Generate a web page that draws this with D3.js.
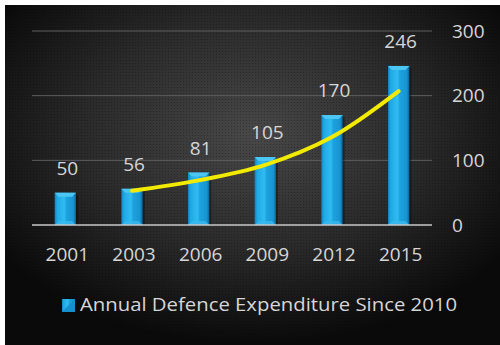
<!DOCTYPE html>
<html><head><meta charset="utf-8">
<script src="https://cdn.jsdelivr.net/npm/d3@7"></script>
<style>html,body{margin:0;padding:0;background:#fff;overflow:hidden}</style>
</head><body>
<script>
const years = ["2001","2003","2006","2009","2012","2015"];
const expenditure = [50, 56, 81, 105, 170, 246];
const trendYears = ["2003","2006","2009","2012","2015"];
const trendValues = [53, 69, 93, 136, 207];
const yTicks = [0, 100, 200, 300];
const legendLabel = "Annual Defence Expenditure Since 2010";

const W = 500, H = 345;
const svg = d3.select("body").append("svg").attr("width", W).attr("height", H);
const defs = svg.append("defs");

const bg = defs.append("radialGradient").attr("id","bg").attr("cx","0.5").attr("cy","0.38").attr("r","0.62");
bg.append("stop").attr("offset","0").attr("stop-color","#484848");
bg.append("stop").attr("offset","0.55").attr("stop-color","#2a2a2a");
bg.append("stop").attr("offset","1").attr("stop-color","#0a0a0a");

const pat = defs.append("pattern").attr("id","dots").attr("width",3).attr("height",3).attr("patternUnits","userSpaceOnUse");
pat.append("rect").attr("width",1).attr("height",1).attr("fill","rgba(0,0,0,0.25)");

const barG = defs.append("linearGradient").attr("id","barG").attr("x1","0").attr("x2","1").attr("y1","0").attr("y2","0");
[["0","#0f82be"],["0.12","#1fa9e4"],["0.45","#30bcf2"],["0.55","#1ca3de"],["0.88","#1794d2"],["1","#0b6194"]]
  .forEach(([o,c]) => barG.append("stop").attr("offset",o).attr("stop-color",c));

svg.append("rect").attr("x",5).attr("y",5).attr("width",W-5).attr("height",H-5).attr("fill","url(#bg)");
svg.append("rect").attr("x",5).attr("y",5).attr("width",W-5).attr("height",H-5).attr("fill","url(#dots)");

const x = d3.scaleBand().domain(years).range([32, 432]).paddingInner(0.68).paddingOuter(0.34);
const y = d3.scaleLinear().domain([0, 300]).range([225, 31]);

const font = "'Open Sans', 'Noto Sans', sans-serif";
const txt = "#d6d6d6";
const fs = 19;

// gridlines
svg.append("g").selectAll("line").data(yTicks.filter(d => d > 0)).join("line")
  .attr("x1", 32).attr("x2", 432).attr("y1", d => y(d)).attr("y2", d => y(d))
  .attr("stroke", "#5e5e5e").attr("stroke-width", 1);

// right axis labels
const ax = svg.append("g").attr("transform", "translate(452,0)")
  .call(d3.axisRight(y).tickValues(yTicks).tickSize(0).tickPadding(0));
ax.select(".domain").remove();
ax.selectAll("text").attr("font-family", font).attr("font-size", fs).attr("fill", txt).attr("x", 0);

// bars
const bars = svg.append("g");
years.forEach((yr, i) => {
  const v = expenditure[i];
  const x0 = x(yr), bw = x.bandwidth(), yt = y(v), yb = y(0);
  bars.append("rect").attr("x", x0 + 2).attr("y", yt + 2).attr("width", bw).attr("height", yb - yt - 2)
    .attr("fill", "rgba(0,0,0,0.35)");
  bars.append("rect").attr("x", x0).attr("y", yt).attr("width", bw).attr("height", yb - yt).attr("fill", "url(#barG)");
  const b = 4;
  bars.append("path").attr("d", `M${x0},${yt}L${x0+bw},${yt}L${x0+bw-b},${yt+b}L${x0+b},${yt+b}Z`).attr("fill", "#4cc6f3");
  bars.append("path").attr("d", `M${x0},${yb}L${x0+bw},${yb}L${x0+bw-b},${yb-b}L${x0+b},${yb-b}Z`).attr("fill", "#3ab9ee").attr("opacity", 0.8);
});

// baseline
svg.append("line").attr("x1", 32).attr("x2", 432).attr("y1", y(0)).attr("y2", y(0))
  .attr("stroke", "#c8c8c8").attr("stroke-width", 1.3);

// value labels
svg.append("g").selectAll("text").data(years).join("text")
  .attr("x", d => x(d) + x.bandwidth() / 2 + 2)
  .attr("y", (d, i) => y(expenditure[i]) - 18)
  .attr("text-anchor", "middle").attr("font-family", font).attr("font-size", fs).attr("fill", txt)
  .text((d, i) => expenditure[i]);

// x labels
svg.append("g").selectAll("text").data(years).join("text")
  .attr("x", d => x(d) + x.bandwidth() / 2 + 2).attr("y", 261)
  .attr("text-anchor", "middle").attr("font-family", font).attr("font-size", fs).attr("fill", txt)
  .text(d => d);

// trend line
const line = d3.line().x((d, i) => x(trendYears[i]) + x.bandwidth() / 2).y(d => y(d)).curve(d3.curveCatmullRom.alpha(0.5));
svg.append("path").datum(trendValues).attr("d", line).attr("fill", "none")
  .attr("stroke", "#f2ea00").attr("stroke-width", 4).attr("stroke-linecap", "round");

// legend
svg.append("rect").attr("x", 62).attr("y", 299).attr("width", 13).attr("height", 13).attr("fill", "url(#barG)");
svg.append("path").attr("d", "M62,312L75,299L75,312Z").attr("fill", "#1590cf");
svg.append("text").attr("x", 80).attr("y", 311).attr("font-family", font).attr("font-size", 19).attr("fill", txt)
  .attr("textLength", 377).attr("lengthAdjust", "spacingAndGlyphs").text(legendLabel);
</script>
</body></html>
